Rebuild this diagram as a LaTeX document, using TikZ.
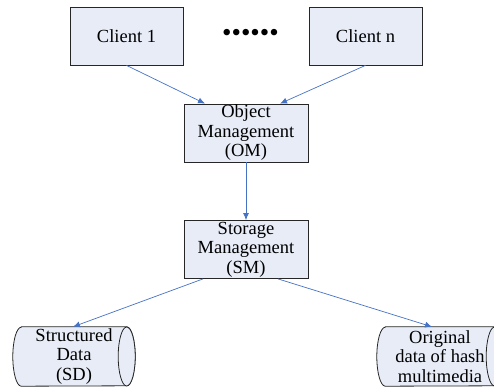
\documentclass[tikz,border=0pt]{standalone}
\usepackage{fontspec}
\setmainfont{Liberation Serif}
\usetikzlibrary{arrows.meta,backgrounds}

\definecolor{boxblue}{RGB}{231,236,247}
\definecolor{linkblue}{RGB}{70,114,196}

\def\picW{494}
\def\picH{387}
\def\endRx{8.5}
\def\endRy{29.5}

\begin{document}
\begin{tikzpicture}[x=1pt, y=-1pt, >={Latex[length=7pt,width=6pt]},
    txt/.style={align=center, inner sep=0pt,
      font=\rmfamily\fontsize{18.5}{19.5}\selectfont},
    box/.style={txt, draw=black!85, line width=0.8pt, fill=boxblue,
      minimum height=58pt},
    store/.style={txt, minimum height=59pt},
    drum/.style={draw=black!85, line width=0.8pt, fill=boxblue},
    link/.style={->, draw=linkblue, line width=0.7pt}]
      \clip (0,0) rectangle (\picW,\picH);
      \node[box, minimum width=113pt] (client1) at (126.5,36) {Client 1};
      \node[box, minimum width=113pt] (clientn) at (365.5,36) {Client n};
      \node[inner sep=0pt, font=\rmfamily\fontsize{27}{27}\selectfont] (dots) at (250.5,35)
        {\foreach \i in {1,...,6} {\textbullet}};
      \node[box, minimum width=124pt] (om) at (246,133) {Object\\Management\\(OM)};
      \node[box, minimum width=124pt] (sm) at (246,249.5) {Storage\\Management\\(SM)};
      \node[store, minimum width=105pt] (sd) at (74,356.5) {Structured\\Data\\(SD)};
      \node[store, minimum width=109pt] (od) at (440,356.5) {Original\\data of hash\\multimedia};
      \begin{scope}[on background layer]
        \foreach \s in {sd,od} {
          \draw[drum] (\s.north west) -- (\s.north east)
            arc[start angle=-90, end angle=90, x radius=\endRx, y radius=\endRy]
            -- (\s.south west)
            arc[start angle=90, end angle=270, x radius=\endRx, y radius=\endRy] -- cycle;
          \draw[drum] (\s.east) ellipse [x radius=\endRx, y radius=\endRy];
        }
      \end{scope}
      \draw[link] (client1.south) -- ([xshift=-41pt]om.north);
      \draw[link] (clientn.south) -- ([xshift=34pt]om.north);
      \draw[link] (om.south) -- (sm.north);
      \draw[link] ([xshift=-43pt]sm.south) -- ([xshift=-1pt]sd.north);
      \draw[link] ([xshift=32pt]sm.south) -- ([xshift=-8pt]od.north);
\end{tikzpicture}
\end{document}
